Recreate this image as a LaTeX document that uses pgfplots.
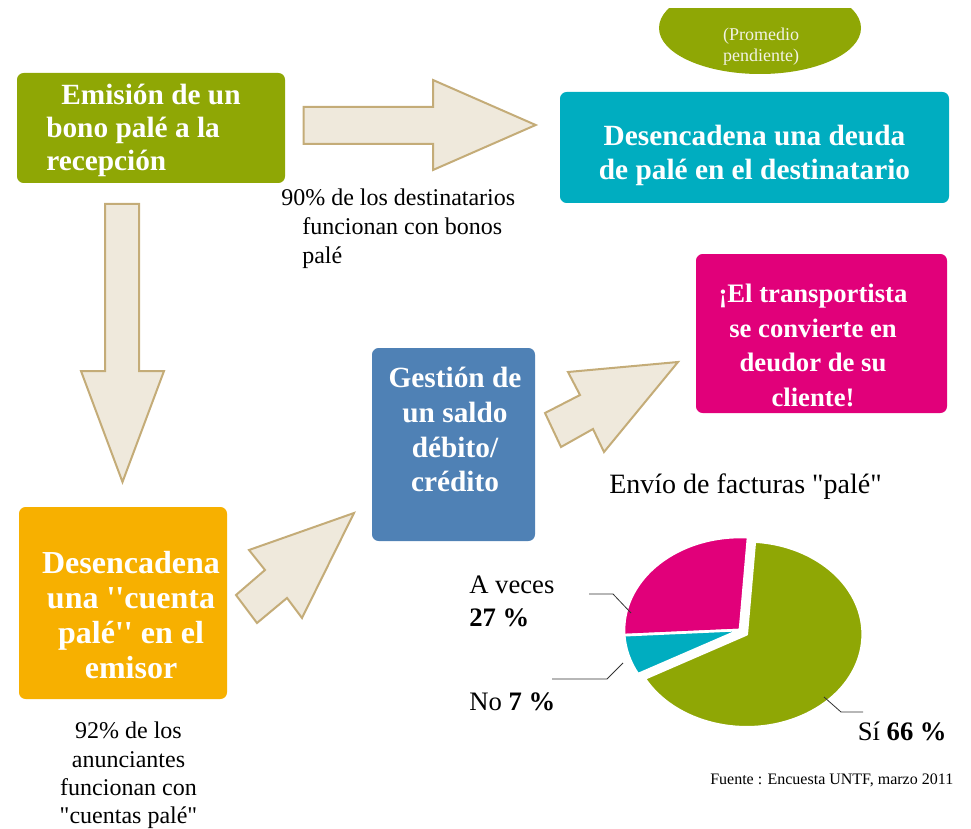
\documentclass[border=0pt]{standalone}
\usepackage{pgfplots}
\pgfplotsset{compat=1.18}
\usepackage{fontspec}
\setmainfont{Liberation Serif}

\definecolor{cgreen}{RGB}{143,167,5}
\definecolor{cteal}{RGB}{0,173,192}
\definecolor{cmag}{RGB}{225,0,122}
\definecolor{corange}{RGB}{247,176,0}
\definecolor{cblue}{RGB}{79,129,181}
\definecolor{arrfill}{RGB}{239,233,220}
\definecolor{arrline}{RGB}{196,172,120}

% pie data (percent)
\def\pMag{27}
\def\pNo{7}
\def\pSi{66}
\pgfmathsetmacro\aA{86}
\pgfmathsetmacro\aB{\aA+3.6*\pMag}
\pgfmathsetmacro\aC{\aB+3.6*\pNo}
\pgfmathsetmacro\aD{\aC+3.6*\pSi}

\tikzset{
  box/.style={rounded corners=5pt},
  arr/.style={fill=arrfill, draw=arrline, line width=1.5pt, line join=miter},
  wedge/.style={draw=white, line width=2pt, line join=round},
  lead/.style={draw=black!80, line width=0.6pt}
}

\begin{document}
\begin{tikzpicture}
\begin{axis}[
    scale only axis,
    width=728.25pt, height=621pt,
    xmin=0, xmax=971, ymin=0, ymax=828,
    y dir=reverse,
    hide axis, clip=false
]
\path (axis cs:0,0) (axis cs:971,828);

% boxes
\fill[cgreen, box] (axis cs:17,73) rectangle (axis cs:285,183);
\fill[cteal, box] (axis cs:560,92) rectangle (axis cs:949,203);
\fill[cblue, box] (axis cs:372,348) rectangle (axis cs:535,541);
\fill[cmag, box] (axis cs:696,254) rectangle (axis cs:947,413);
\fill[corange, box] (axis cs:19,507) rectangle (axis cs:227,699);

% top ellipse, cut at the top
\begin{scope}
\clip (axis cs:600,9) rectangle (axis cs:920,120);
\fill[cgreen] (axis cs:760,28) ellipse [x radius=75.75pt, y radius=34.5pt];
\end{scope}

% arrows
\draw[arr] (axis cs:303.6,107) -- (axis cs:433,107) -- (axis cs:433,80) -- (axis cs:535.7,125)
  -- (axis cs:433,170) -- (axis cs:433,144) -- (axis cs:303.6,144) -- cycle;
\draw[arr] (axis cs:105,204) -- (axis cs:139,204) -- (axis cs:139,371) -- (axis cs:164,371)
  -- (axis cs:122.5,482) -- (axis cs:81,371) -- (axis cs:105,371) -- cycle;
\draw[arr] (axis cs:354,513) -- (axis cs:302,618) -- (axis cs:287,598) -- (axis cs:257,623)
  -- (axis cs:236,595) -- (axis cs:265,570) -- (axis cs:249,550) -- cycle;
\draw[arr] (axis cs:678,362) -- (axis cs:604,452) -- (axis cs:593,429) -- (axis cs:561,447)
  -- (axis cs:545,413) -- (axis cs:580,395) -- (axis cs:568,372) -- cycle;

% box texts
\begin{scope}[every node/.style={text=white, font=\fontsize{22}{25}\selectfont\bfseries, inner sep=0pt}]
\node[anchor=base west] at (axis cs:61,105) {Emisión de un};
\node[anchor=base west] at (axis cs:46,138) {bono palé a la};
\node[anchor=base west] at (axis cs:46,171) {recepción};

\node[anchor=base] at (axis cs:754.5,146) {Desencadena una deuda};
\node[anchor=base] at (axis cs:754.5,180) {de palé en el destinatario};

\node[anchor=base] at (axis cs:455,387) {Gestión de};
\node[anchor=base] at (axis cs:455,422) {un saldo};
\node[anchor=base] at (axis cs:455,457) {débito/};
\node[anchor=base] at (axis cs:455,491) {crédito};
\end{scope}

\begin{scope}[every node/.style={text=white, font=\fontsize{20}{24}\selectfont\bfseries, inner sep=0pt, anchor=base}]
\node at (axis cs:813,302) {¡El transportista};
\node at (axis cs:813,337) {se convierte en};
\node at (axis cs:813,371) {deudor de su};
\node at (axis cs:813,406) {cliente!};
\end{scope}

\begin{scope}[every node/.style={text=white, font=\fontsize{24}{28}\selectfont\bfseries, inner sep=0pt, anchor=base}]
\node at (axis cs:131,573) {Desencadena};
\node at (axis cs:131,608) {una \textquotesingle\textquotesingle cuenta};
\node at (axis cs:131,643) {palé\textquotesingle\textquotesingle{} en el};
\node at (axis cs:131,678) {emisor};
\end{scope}

\begin{scope}[every node/.style={text={rgb,255:red,242;green,242;blue,228}, font=\fontsize{13.5}{16}\selectfont, inner sep=0pt, anchor=base}]
\node at (axis cs:761,41) {(Promedio};
\node at (axis cs:761,62) {pendiente)};
\end{scope}

% plain texts
\begin{scope}[every node/.style={font=\fontsize{18}{21}\selectfont, inner sep=0pt}]
\node[anchor=base west] at (axis cs:281,205) {90\% de los destinatarios};
\node[anchor=base west] at (axis cs:302,234) {funcionan con bonos};
\node[anchor=base west] at (axis cs:302,263) {palé};

\node[anchor=base] at (axis cs:128.5,738) {92\% de los};
\node[anchor=base] at (axis cs:128.5,767) {anunciantes};
\node[anchor=base] at (axis cs:128.5,795) {funcionan con};
\node[anchor=base] at (axis cs:128.5,823) {\textquotedbl cuentas palé\textquotedbl};
\end{scope}

\node[anchor=base west, inner sep=0pt, font=\fontsize{21}{25}\selectfont] at (axis cs:609,493) {Envío de facturas \textquotedbl palé\textquotedbl};

% pie
\filldraw[fill=cmag, wedge] (axis cs:740,630) -- ++(\aA:87pt and 69.75pt)
  arc[start angle=\aA, end angle=\aB, x radius=87pt, y radius=69.75pt] -- cycle;
\filldraw[fill=cteal, wedge] (axis cs:740,630) -- ++(\aB:87pt and 69.75pt)
  arc[start angle=\aB, end angle=\aC, x radius=87pt, y radius=69.75pt] -- cycle;
\filldraw[fill=cgreen, wedge] (axis cs:746.7,634.3) -- ++(\aC:87pt and 69.75pt)
  arc[start angle=\aC, end angle=\aD, x radius=87pt, y radius=69.75pt] -- cycle;

% leaders
\draw[lead] (axis cs:589,594) -- (axis cs:613,594) -- (axis cs:631,613);
\draw[lead] (axis cs:552,679) -- (axis cs:607,679) -- (axis cs:623,663);
\draw[lead] (axis cs:824,697) -- (axis cs:841,712) -- (axis cs:863,712);

\begin{scope}[every node/.style={font=\fontsize{20}{24}\selectfont, inner sep=0pt, anchor=base west}]
\node at (axis cs:469,593) {A veces};
\node at (axis cs:469,626) {\textbf{27 \%}};
\node at (axis cs:469,710) {No \textbf{7 \%}};
\node at (axis cs:857.5,740) {Sí \textbf{66 \%}};
\end{scope}

\node[anchor=base west, inner sep=0pt, font=\fontsize{12}{14}\selectfont] at (axis cs:710,784) {Fuente : Encuesta UNTF, marzo 2011};

\end{axis}
\end{tikzpicture}
\end{document}
